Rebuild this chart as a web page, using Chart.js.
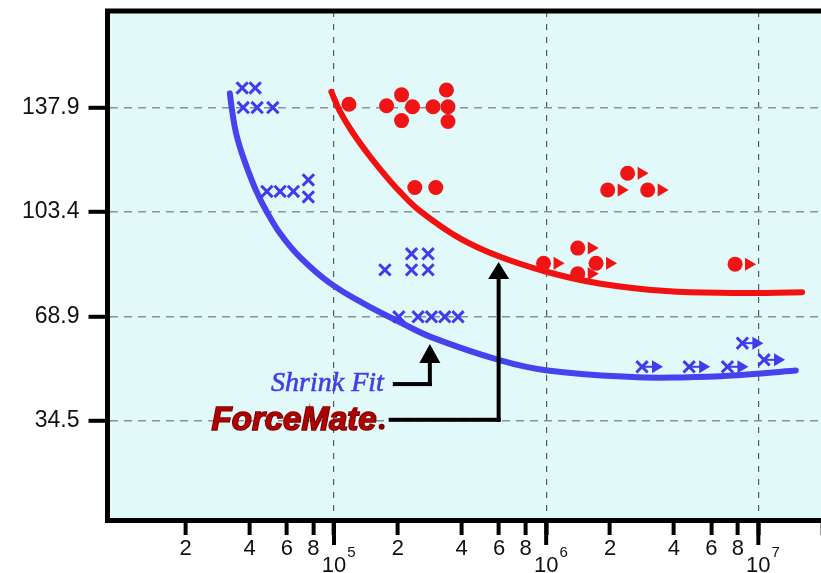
<!DOCTYPE html>
<html>
<head>
<meta charset="utf-8">
<script src="https://cdn.jsdelivr.net/npm/chart.js@4.4.1/dist/chart.umd.min.js"></script>
<style>
html, body { margin: 0; padding: 0; background: #fff; overflow: hidden; }
#wrap { width: 850px; height: 573px; }
</style>
</head>
<body>
<div id="wrap"><canvas id="chart"></canvas></div>
<script>
// cycles (x, log) vs stress in MPa (y)
const yTicks = [34.5, 68.9, 103.4, 137.9];
const xTicks = [2e4, 4e4, 6e4, 8e4, 1e5, 2e5, 4e5, 6e5, 8e5, 1e6, 2e6, 4e6, 6e6, 8e6, 1e7, 2e7];
const decades = [1e5, 1e6, 1e7];

const shrinkX = [36930, 42510, 37340, 43440, 51480, 48260, 55720, 64380, 75700, 75700,
    173800, 232000, 277600, 232000, 277600, 202200, 249100, 288000, 332700, 384200];
const shrinkY = [144.4, 144.4, 137.9, 137.9, 137.9, 110.2, 110.2, 110.2, 114.0, 108.4,
    84.3, 89.6, 89.6, 84.3, 84.3, 68.8, 68.8, 68.8, 68.8, 68.8];
const shrinkRunX = [2.83e6, 4.72e6, 7.15e6, 8.41e6, 1.064e7];
const shrinkRunY = [52.3, 52.3, 52.3, 60.1, 54.6];

const forceX = [117600, 176900, 208200, 234500, 208200, 293100, 338800, 344700, 344700, 240400, 301800];
const forceY = [139.0, 138.5, 142.1, 138.2, 133.6, 138.2, 143.7, 138.2, 133.3, 111.5, 111.5];
const forceRunX = [1.95e6, 2.42e6, 3.01e6, 9.72e5, 1.409e6, 1.719e6, 1.409e6, 7.77e6];
const forceRunY = [110.7, 116.2, 110.7, 86.5, 91.5, 86.5, 83.0, 86.2];

// fit curves
const shrinkFitX = [32290, 33180, 34460, 36380, 39250, 42800, 47700, 55520, 68950, 95440,
    139500, 203800, 287300, 602500, 1.013e6, 2.546e6, 4.377e6, 7.525e6, 1.501e7];
const shrinkFitY = [142.6, 136.4, 129.8, 123.9, 117.3, 110.7, 104.1, 96.5, 88.6, 80.0,
    73.0, 67.1, 62.1, 54.5, 51.1, 48.9, 48.8, 49.4, 51.1];
const forceFitX = [97220, 106400, 122900, 147200, 176500, 203800, 253100, 390500, 602500,
    1.013e6, 1.781e6, 3.668e6, 7.525e6, 1.607e7];
const forceFitY = [143.1, 136.8, 129.5, 121.9, 115.1, 110.2, 103.9, 94.8, 88.7,
    83.6, 79.8, 77.3, 76.7, 76.9];

const BLUE = '#3d3deb';
const RED = '#f01414';

function pts(xs, ys) {
    return xs.map((x, i) => ({ x: x, y: ys[i] }));
}

function isDecade(v) {
    return decades.some(d => Math.abs(d - v) < d * 1e-6);
}

function noPad(s) {
    s.paddingTop = 0;
    s.paddingBottom = 0;
    s.paddingLeft = 0;
    s.paddingRight = 0;
}

const chartBg = {
    id: 'chartBg',
    beforeDraw(chart) {
        const a = chart.chartArea, ctx = chart.ctx;
        ctx.save();
        ctx.fillStyle = '#e1f9f9';
        ctx.fillRect(a.left, a.top, chart.width - a.left, a.bottom - a.top);
        ctx.restore();
    },
    afterDraw(chart) {
        const a = chart.chartArea, ctx = chart.ctx;
        const xs = chart.scales.x;
        ctx.save();
        ctx.fillStyle = '#000';
        ctx.fillRect(a.left - 2.5, a.top - 2.5, chart.width, 5);
        // longer ticks and 10^n labels at decades
        decades.forEach((d, i) => {
            const px = xs.getPixelForValue(d);
            ctx.fillStyle = '#000';
            ctx.fillRect(px - 2, a.bottom, 4, 25);
            ctx.font = '22px "Liberation Sans", Arial, sans-serif';
            ctx.textAlign = 'center';
            ctx.textBaseline = 'top';
            ctx.fillStyle = '#111';
            ctx.fillText('10', px, 555);
            const w = ctx.measureText('10').width;
            ctx.font = '15px "Liberation Sans", Arial, sans-serif';
            ctx.textAlign = 'left';
            ctx.fillText(String(5 + i), px + w / 2 + 1, 545);
        });
        ctx.restore();
    }
};

// run-out arrows next to the markers, and the two labelled arrows
const annotations = {
    id: 'annotations',
    afterDatasetsDraw(chart) {
        const ctx = chart.ctx;
        const xs = chart.scales.x, ys = chart.scales.y;
        ctx.save();
        chart.data.datasets.forEach((ds, i) => {
            if (!ds.runout) return;
            chart.getDatasetMeta(i).data.forEach(el => {
                const x = el.x, y = el.y;
                ctx.fillStyle = ds.borderColor;
                if (ds.runout === 'shaft') {
                    ctx.fillRect(x, y - 1, 12, 2);
                }
                ctx.beginPath();
                ctx.moveTo(x + 10, y - 6.5);
                ctx.lineTo(x + 21, y);
                ctx.lineTo(x + 10, y + 6.5);
                ctx.closePath();
                ctx.fill();
            });
        });

        function arrow(tx, ty, head, elbowY, startX) {
            ctx.fillStyle = '#000';
            ctx.beginPath();
            ctx.moveTo(tx, ty);
            ctx.lineTo(tx - 10.5, ty + head);
            ctx.lineTo(tx + 10.5, ty + head);
            ctx.closePath();
            ctx.fill();
            ctx.fillRect(tx - 2, ty + head - 1, 4, elbowY - ty - head + 3);
            ctx.fillRect(startX, elbowY - 2, tx - startX + 2, 4);
        }

        const sx = xs.getPixelForValue(2.83e5), sy = ys.getPixelForValue(59.8);
        arrow(sx, sy, 19, sy + 40, sx - 37);
        ctx.font = 'italic 28px "Liberation Serif", "Times New Roman", serif';
        ctx.fillStyle = '#3f3fe6';
        ctx.strokeStyle = '#3f3fe6';
        ctx.lineWidth = 0.6;
        ctx.textAlign = 'right';
        ctx.textBaseline = 'alphabetic';
        ctx.fillText('Shrink Fit', sx - 46, sy + 47);
        ctx.strokeText('Shrink Fit', sx - 46, sy + 47);

        const fx = xs.getPixelForValue(5.97e5), fy = ys.getPixelForValue(86.9);
        const fElbow = ys.getPixelForValue(34.8);
        arrow(fx, fy, 17, fElbow, fx - 110);
        ctx.font = 'italic bold 33px "Liberation Sans", Arial, sans-serif';
        ctx.fillStyle = '#b00000';
        ctx.strokeStyle = '#6a0000';
        ctx.lineWidth = 1.6;
        ctx.strokeText('ForceMate', fx - 122, fElbow + 10);
        ctx.fillText('ForceMate', fx - 122, fElbow + 10);
        ctx.fillStyle = '#7a0000';
        ctx.beginPath();
        ctx.arc(fx - 117, fElbow + 7, 3, 0, Math.PI * 2);
        ctx.fill();
        ctx.restore();
    }
};

new Chart(document.getElementById('chart'), {
    type: 'scatter',
    data: {
        datasets: [
            { data: pts(shrinkX, shrinkY), pointStyle: 'crossRot', pointRadius: 8, borderWidth: 3, borderColor: BLUE, backgroundColor: BLUE },
            { data: pts(shrinkRunX, shrinkRunY), pointStyle: 'crossRot', pointRadius: 8, borderWidth: 3, borderColor: BLUE, backgroundColor: BLUE, runout: 'shaft' },
            { data: pts(forceX, forceY), pointStyle: 'circle', pointRadius: 7.5, borderWidth: 0, borderColor: RED, backgroundColor: RED },
            { data: pts(forceRunX, forceRunY), pointStyle: 'circle', pointRadius: 7.5, borderWidth: 0, borderColor: RED, backgroundColor: RED, runout: 'plain' },
            { data: pts(shrinkFitX, shrinkFitY), showLine: true, pointRadius: 0, borderWidth: 6, borderColor: '#4444ee', tension: 0.4, borderCapStyle: 'round' },
            { data: pts(forceFitX, forceFitY), showLine: true, pointRadius: 0, borderWidth: 6, borderColor: '#f21010', tension: 0.4, borderCapStyle: 'round' }
        ]
    },
    options: {
        responsive: true,
        maintainAspectRatio: false,
        animation: false,
        events: [],
        layout: { padding: { top: 11, right: 10, left: 0, bottom: 0 } },
        plugins: { legend: { display: false }, tooltip: { enabled: false } },
        scales: {
            x: {
                type: 'logarithmic',
                min: 8560,
                max: 2.4e7,
                afterBuildTicks: s => { s.ticks = xTicks.map(v => ({ value: v })); },
                afterFit: s => { s.height = 53; noPad(s); },
                ticks: {
                    autoSkip: false,
                    maxRotation: 0,
                    minRotation: 0,
                    padding: 1,
                    color: '#111',
                    font: { family: '"Liberation Sans", Arial, sans-serif', size: 22 },
                    callback: v => {
                        if (isDecade(v) || v > 1.5e7) return '';
                        const e = Math.floor(Math.log10(v) + 1e-9);
                        return String(Math.round(v / Math.pow(10, e)));
                    }
                },
                grid: {
                    color: c => (c.tick && isDecade(c.tick.value)) ? '#5a5a5a' : 'rgba(0,0,0,0)',
                    lineWidth: 1.2,
                    tickColor: '#000',
                    tickWidth: 4,
                    tickLength: 15
                },
                border: { display: true, color: '#000', width: 5, dash: [6, 7] }
            },
            y: {
                min: 1.7,
                max: 169.8,
                afterBuildTicks: s => { s.ticks = yTicks.map(v => ({ value: v })); },
                afterFit: s => { s.width = 107.5; noPad(s); },
                ticks: {
                    padding: 9,
                    color: '#111',
                    font: { family: '"Liberation Sans", Arial, sans-serif', size: 23 },
                    callback: v => v.toFixed(1)
                },
                grid: {
                    color: '#8f8f8f',
                    lineWidth: 1.6,
                    tickColor: '#000',
                    tickWidth: 4,
                    tickLength: 19
                },
                border: { display: true, color: '#000', width: 5, dash: [8, 6] }
            }
        }
    },
    plugins: [chartBg, annotations]
});
</script>
</body>
</html>
